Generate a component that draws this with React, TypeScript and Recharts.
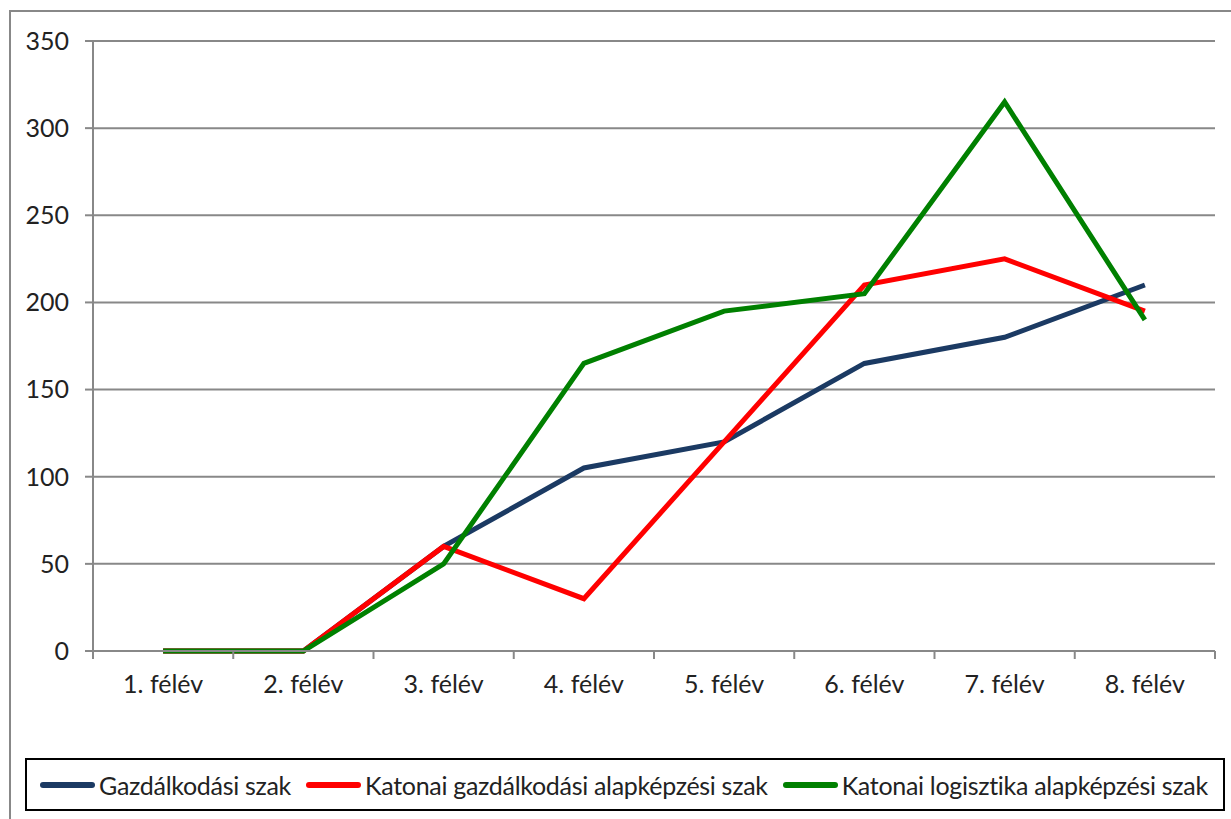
import { LineChart, Line, XAxis, YAxis, CartesianGrid } from 'recharts'

const categories = ['1. félév', '2. félév', '3. félév', '4. félév', '5. félév', '6. félév', '7. félév', '8. félév']
const gazdalkodasi = [0, 0, 60, 105, 120, 165, 180, 210]
const katonaiGazd = [0, 0, 60, 30, 120, 210, 225, 195]
const katonaiLog = [0, 0, 50, 165, 195, 205, 315, 190]
const yTicks = [0, 50, 100, 150, 200, 250, 300, 350]

const series = [
  { key: 'gazd', name: 'Gazdálkodási szak', color: '#1B3A63', values: gazdalkodasi },
  { key: 'katg', name: 'Katonai gazdálkodási alapképzési szak', color: '#FF0000', values: katonaiGazd },
  { key: 'katl', name: 'Katonai logisztika alapképzési szak', color: '#008000', values: katonaiLog },
]

const data = categories.map((c, i) => {
  const row: Record<string, string | number> = { cat: c }
  series.forEach(s => { row[s.key] = s.values[i] })
  return row
})

const FONT = 'Lato, "Open Sans", sans-serif'
const FS = 25

// Excel-style category axis: tick marks sit between categories
function CatTick(props: any) {
  const { x, y, payload, width, visibleTicksCount, index } = props
  const band = width / visibleTicksCount
  return (
    <g>
      <line x1={x - band / 2} x2={x - band / 2} y1={651} y2={659} stroke="#888" strokeWidth={2} />
      {index === visibleTicksCount - 1 && (
        <line x1={x + band / 2} x2={x + band / 2} y1={651} y2={659} stroke="#888" strokeWidth={2} />
      )}
      <text x={x} y={y} dy={28} textAnchor="middle" fill="#222" fontSize={FS} fontFamily={FONT}>
        {payload.value}
      </text>
    </g>
  )
}

export default function App() {
  return (
    <div style={{ position: 'absolute', left: 0, top: 0, width: 1231, height: 819, overflow: 'hidden', background: '#fff' }}>
      <div style={{ position: 'absolute', left: 9, top: 10, width: 1300, height: 900, border: '2px solid #888' }} />
      <div style={{ position: 'absolute', left: 0, top: 0 }}>
        <LineChart width={1231} height={819} data={data} margin={{ top: 41, right: 16, bottom: 128, left: 33 }}>
          <CartesianGrid vertical={false} stroke="#888" strokeWidth={2} />
          <XAxis
            dataKey="cat"
            scale="band"
            stroke="#888"
            strokeWidth={2}
            tickLine={false}
            tick={<CatTick />}
            tickMargin={8}
            height={40}
            interval={0}
          />
          <YAxis
            domain={[0, 350]}
            ticks={yTicks}
            stroke="#888"
            strokeWidth={2}
            tickSize={8}
            tickMargin={16}
            width={60}
            tick={{ fill: '#222', fontSize: FS, fontFamily: FONT }}
          />
          {series.map(s => (
            <Line
              key={s.key}
              dataKey={s.key}
              name={s.name}
              stroke={s.color}
              strokeWidth={5}
              dot={false}
              type="linear"
              isAnimationActive={false}
            />
          ))}
        </LineChart>
      </div>
      <div
        style={{
          position: 'absolute', left: 25, top: 758, width: 1196, height: 49,
          border: '2px solid #000', display: 'flex', alignItems: 'center',
          fontFamily: FONT, fontSize: 25, color: '#222', boxSizing: 'content-box',
        }}
      >
        {series.map((s, i) => (
          <div key={s.key} style={{ display: 'flex', alignItems: 'center', marginLeft: i === 0 ? 13 : 15 }}>
            <div style={{ width: 55, height: 6, borderRadius: 3, background: s.color, marginRight: 4 }} />
            <span style={{ whiteSpace: 'nowrap', letterSpacing: -0.3 }}>{s.name}</span>
          </div>
        ))}
      </div>
    </div>
  )
}
